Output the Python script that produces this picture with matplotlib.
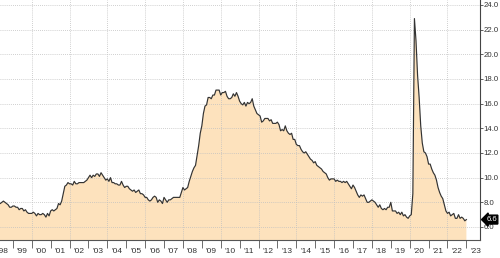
import matplotlib
matplotlib.use("Agg")
import matplotlib.pyplot as plt
import numpy as np

# monthly rate, Jan 1998 .. Jan 2023
rate_1998 = [8.4, 8.4, 8.4, 7.9, 7.9, 8.0, 8.1, 8.0, 7.9, 7.8, 7.6, 7.6]
rate_1999 = [7.7, 7.7, 7.6, 7.6, 7.4, 7.5, 7.5, 7.3, 7.4, 7.2, 7.1, 7.1]
rate_2000 = [7.1, 7.2, 7.1, 6.9, 7.1, 7.0, 7.0, 7.1, 7.0, 6.8, 7.1, 6.9]
rate_2001 = [7.3, 7.4, 7.3, 7.4, 7.5, 7.9, 7.8, 8.1, 8.7, 9.3, 9.4, 9.6]
rate_2002 = [9.5, 9.5, 9.4, 9.7, 9.5, 9.5, 9.6, 9.6, 9.6, 9.6, 9.7, 9.8]
rate_2003 = [10.0, 10.2, 10.0, 10.2, 10.1, 10.3, 10.3, 10.1, 10.4, 10.2, 10.0, 9.8]
rate_2004 = [9.9, 9.7, 10.0, 9.6, 9.6, 9.5, 9.5, 9.4, 9.4, 9.7, 9.4, 9.2]
rate_2005 = [9.3, 9.3, 9.1, 9.0, 8.9, 9.0, 8.8, 8.9, 9.0, 8.7, 8.7, 8.6]
rate_2006 = [8.4, 8.4, 8.2, 8.1, 8.2, 8.4, 8.5, 8.4, 8.0, 8.2, 8.1, 7.9]
rate_2007 = [8.4, 8.2, 8.0, 8.2, 8.2, 8.3, 8.4, 8.4, 8.4, 8.4, 8.4, 8.8]
rate_2008 = [9.2, 9.0, 9.1, 9.2, 9.7, 10.1, 10.5, 10.8, 11.0, 11.8, 12.6, 13.6]
rate_2009 = [14.2, 15.2, 15.8, 15.9, 16.5, 16.5, 16.4, 16.7, 16.7, 17.1, 17.1, 17.1]
rate_2010 = [16.7, 16.9, 16.9, 17.0, 16.6, 16.4, 16.4, 16.5, 16.8, 16.6, 16.9, 16.6]
rate_2011 = [16.2, 16.0, 15.9, 16.1, 15.8, 16.1, 16.0, 16.1, 16.4, 15.8, 15.5, 15.2]
rate_2012 = [15.1, 15.0, 14.5, 14.6, 14.8, 14.8, 14.8, 14.6, 14.7, 14.4, 14.4, 14.4]
rate_2013 = [14.5, 14.3, 13.8, 13.9, 13.8, 14.2, 13.8, 13.6, 13.5, 13.6, 13.1, 13.1]
rate_2014 = [12.7, 12.6, 12.6, 12.3, 12.1, 12.0, 12.1, 11.9, 11.7, 11.5, 11.4, 11.2]
rate_2015 = [11.3, 11.0, 10.9, 10.8, 10.7, 10.5, 10.4, 10.3, 10.0, 9.8, 9.9, 9.9]
rate_2016 = [9.9, 9.7, 9.8, 9.7, 9.7, 9.6, 9.7, 9.6, 9.7, 9.5, 9.3, 9.1]
rate_2017 = [9.4, 9.2, 8.9, 8.6, 8.4, 8.6, 8.5, 8.6, 8.3, 8.0, 8.0, 8.1]
rate_2018 = [8.2, 8.1, 8.0, 7.8, 7.6, 7.8, 7.5, 7.4, 7.5, 7.4, 7.6, 7.6]
rate_2019 = [8.0, 7.3, 7.3, 7.3, 7.1, 7.2, 7.0, 7.2, 6.9, 7.0, 6.8, 6.7]
rate_2020 = [6.9, 7.0, 8.7, 22.9, 21.1, 18.3, 16.5, 14.2, 12.8, 12.1, 12.0, 11.7]
rate_2021 = [11.1, 11.1, 10.7, 10.4, 10.2, 9.8, 9.2, 8.8, 8.5, 8.3, 7.8, 7.3]
rate_2022 = [7.1, 7.2, 6.9, 7.0, 7.1, 6.7, 6.7, 7.0, 6.7, 6.8, 6.7, 6.5]
rate_2023 = [6.6]

rates = (rate_1998 + rate_1999 + rate_2000 + rate_2001 + rate_2002 + rate_2003 +
         rate_2004 + rate_2005 + rate_2006 + rate_2007 + rate_2008 + rate_2009 +
         rate_2010 + rate_2011 + rate_2012 + rate_2013 + rate_2014 + rate_2015 +
         rate_2016 + rate_2017 + rate_2018 + rate_2019 + rate_2020 + rate_2021 +
         rate_2022 + rate_2023)
rates = np.array(rates)
t = 1998 + np.arange(len(rates)) / 12.0

years = list(range(1998, 2024))
year_labels = ["'%02d" % (y % 100) for y in years]
y_ticks = [6, 8, 10, 12, 14, 16, 18, 20, 22, 24]
last_label = "6.6"

fig = plt.figure(figsize=(5.0, 2.58), dpi=100)
ax = fig.add_axes([0.0, 0.0698, 0.96, 0.9302])

ax.fill_between(t, rates, 0, color="#fde2bd", lw=0, zorder=1)
ax.plot(t, rates, color="#333333", lw=0.85, zorder=3)

ax.set_xlim(1998.32, 2023.72)
ax.set_ylim(4.945, 24.405)

# grid: horizontal every 2, vertical on even years
for v in y_ticks:
    ax.axhline(v, color="#c0c0c0", lw=0.6, ls=(0, (1, 1.5)), zorder=2)
for y in years:
    if y % 2 == 0:
        ax.axvline(y, color="#c0c0c0", lw=0.6, ls=(0, (1, 1.5)), zorder=2)

# x axis: tick marks at year boundaries, labels at mid-year
ax.set_xticks(years[1:])
ax.set_xticklabels([])
ax.tick_params(axis="x", which="major", length=6, width=0.6, color="#555555", direction="out")
ax.set_xticks([y + 0.5 for y in years], minor=True)
ax.set_xticklabels(year_labels, minor=True, fontsize=6, color="#333333", family="Liberation Sans")
ax.tick_params(axis="x", which="minor", length=0, pad=6)

# y axis on right
ax.yaxis.tick_right()
ax.set_yticks(y_ticks)
ax.set_yticklabels(["%.1f" % v for v in y_ticks], fontsize=5.6, color="#333333", family="Liberation Sans")
ax.tick_params(axis="y", length=1.8, width=0.6, color="#444444", pad=0.6)

for s in ["top", "left"]:
    ax.spines[s].set_visible(False)
ax.spines["right"].set_color("#444444")
ax.spines["right"].set_linewidth(0.8)
ax.spines["bottom"].set_color("#555555")
ax.spines["bottom"].set_linewidth(0.8)

# last value tag
ax.text(1.013, 6.6, last_label, transform=ax.get_yaxis_transform(), ha="left", va="center",
        fontsize=5.6, color="white", family="Liberation Sans", zorder=5,
        bbox=dict(boxstyle="larrow,pad=0.12", fc="black", ec="black"))

fig.savefig("out.png", dpi=100)
